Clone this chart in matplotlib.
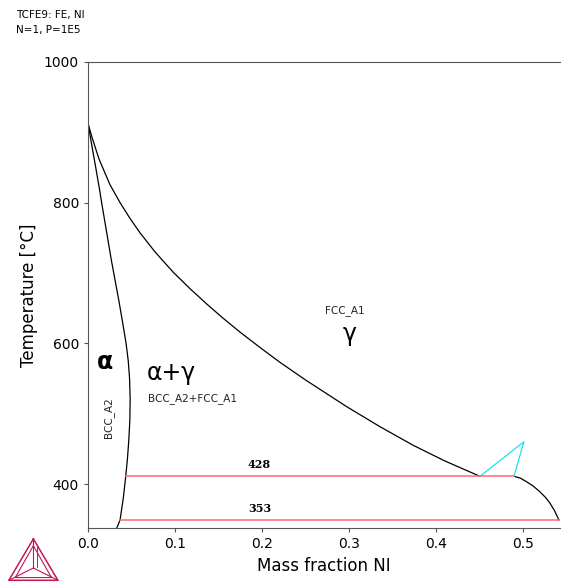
import matplotlib.pyplot as plt
import numpy as np

plt.rcParams["figure.dpi"] = 100
plt.rcParams["figure.facecolor"] = "white"

# phase boundaries (mass fraction Ni, T in C)
fcc_x = [0.0, 0.005, 0.0126, 0.025, 0.0368, 0.048, 0.0598, 0.077, 0.098, 0.117, 0.1364,
         0.155, 0.1747, 0.2, 0.2207, 0.25, 0.2974, 0.335, 0.374, 0.41, 0.4506]
fcc_t = [912, 891, 862, 826, 800, 778, 757, 730, 701, 678, 656,
         636, 616, 592, 573, 548, 510, 482, 455, 433, 411]

bcc_t = [912, 880, 850, 820, 800, 770, 740, 718, 690, 660, 630, 600, 575, 550, 520,
         490, 462, 435, 411, 380, 349, 337.5]
bcc_x = [0.0, 0.0045, 0.0088, 0.013, 0.0156, 0.0197, 0.0238, 0.0268, 0.031, 0.0355, 0.0397,
         0.0437, 0.0462, 0.0477, 0.0484, 0.048, 0.0468, 0.0452, 0.0433, 0.0405, 0.0368, 0.033]

right_x = [0.4897, 0.497, 0.5042, 0.512, 0.5195, 0.526, 0.531, 0.536, 0.5414]
right_t = [411.0, 408.5, 403.3, 397.0, 389.0, 381.0, 373.0, 363.0, 349.0]

cyan_x = [0.4506, 0.5011, 0.4897]
cyan_t = [411.0, 460.1, 411.0]

inv_t = [411.0, 349.0]
inv_x0 = [0.0433, 0.0368]
inv_x1 = [0.4897, 0.5414]
inv_labels = ["428", "353"]

fig = plt.figure(figsize=(5.61, 5.83))
ax = fig.add_axes([0.157, 0.0943, 0.841, 0.7994])

ax.plot(fcc_x, fcc_t, color="k", linewidth=0.9)
ax.plot(bcc_x, bcc_t, color="k", linewidth=0.9)
ax.plot(right_x, right_t, color="k", linewidth=0.9)
ax.plot(cyan_x, cyan_t, color="#19e3f0", linewidth=0.9)
for t, x0, x1, lab in zip(inv_t, inv_x0, inv_x1, inv_labels):
    ax.plot([x0, x1], [t, t], color="#ff6a6a", linewidth=1.1)
    ax.text(0.197, t + 9, lab, fontsize=8, fontweight="bold", family="DejaVu Serif",
            ha="center", va="bottom")

ax.text(0.0195, 573, "α", fontsize=17, fontweight="bold", ha="center", va="center")
ax.text(0.0954, 558, "α+γ", fontsize=17, ha="center", va="center")
ax.text(0.1195, 522, "BCC_A2+FCC_A1", fontsize=7.5, ha="center", va="center", color="#222222")
ax.text(0.023, 494, "BCC_A2", fontsize=7.5, rotation=90, ha="center", va="center", color="#222222")
ax.text(0.2954, 647, "FCC_A1", fontsize=7.5, ha="center", va="center", color="#222222")
ax.text(0.301, 614, "γ", fontsize=17, ha="center", va="center")

ax.set_xlim(0, 0.5425)
ax.set_ylim(337.5, 1000)
ax.set_xticks([0.0, 0.1, 0.2, 0.3, 0.4, 0.5])
ax.set_yticks([400, 600, 800, 1000])
ax.spines["right"].set_visible(False)
for s in ["left", "bottom", "top"]:
    ax.spines[s].set_color("#555555")
ax.tick_params(labelsize=10, length=3, color="#555555")
ax.set_xlabel("Mass fraction NI", fontsize=12)
ax.set_ylabel("Temperature [°C]", fontsize=12)

fig.text(0.028, 0.975, "TCFE9: FE, NI", fontsize=7.5, va="center")
fig.text(0.028, 0.949, "N=1, P=1E5", fontsize=7.5, va="center")

# logo
lg = fig.add_axes([0.012, 0.0, 0.095, 0.078])
lg.set_xlim(0, 1)
lg.set_ylim(0, 1)
lg.axis("off")
c = "#c2185b"
apex, bl, br, cen = (0.5, 0.97), (0.04, 0.06), (0.96, 0.06), (0.5, 0.33)
lg.plot([apex[0], bl[0], br[0], apex[0]], [apex[1], bl[1], br[1], apex[1]], color=c, lw=1.1)
lg.plot([0.5, 0.16, 0.84, 0.5], [0.82, 0.12, 0.12, 0.82], color=c, lw=0.8)
for p in (apex, bl, br):
    lg.plot([p[0], cen[0]], [p[1], cen[1]], color=c, lw=0.8)
lg.plot([0.56, 0.56], [0.8, 0.36], color=c, lw=0.7)

plt.savefig("out.png")
